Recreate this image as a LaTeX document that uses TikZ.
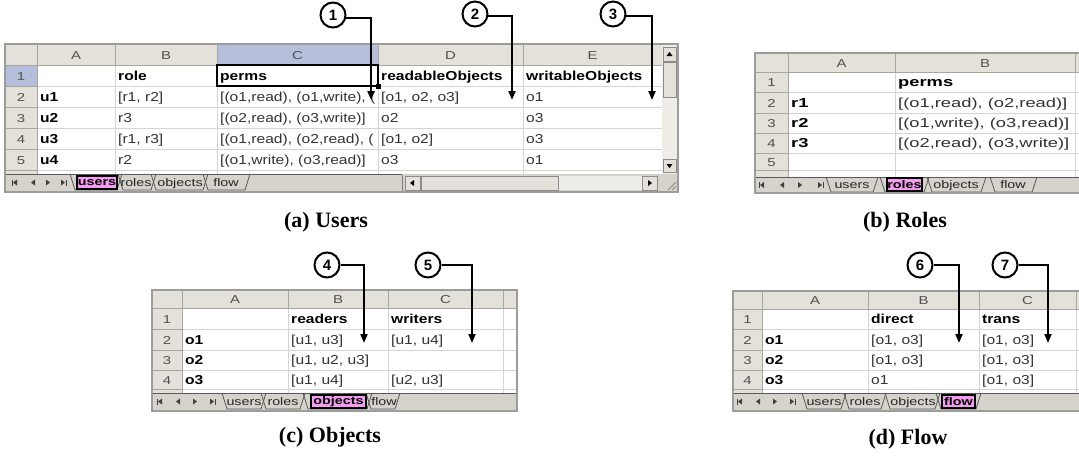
\documentclass[tikz,border=0pt]{standalone}
\usepackage{fontspec}
\usetikzlibrary{arrows.meta}
\newfontfamily\xlfont[FakeStretch=1.2]{Liberation Sans}
\newfontfamily\xlwide[FakeStretch=1.41]{Liberation Sans}
\newfontfamily\tabfont[FakeStretch=1.3]{Liberation Sans}
\newfontfamily\capfont{Liberation Serif}
\newfontfamily\numfont{Liberation Sans}
\definecolor{hdrbg}{HTML}{E3E1DA}
\definecolor{selbg}{HTML}{B5BFDC}
\definecolor{gridc}{HTML}{D4D4D4}
\definecolor{hdrln}{HTML}{A9A69E}
\definecolor{tabbg}{HTML}{D6D3CC}
\definecolor{framec}{HTML}{9C9C9C}
\definecolor{pinktab}{HTML}{F39CF0}
\definecolor{celltxt}{HTML}{333333}
\definecolor{hdrtxt}{HTML}{505050}
\definecolor{trackc}{HTML}{EEEDE8}
\newcommand\cf{\xlfont\fontsize{13}{15}\selectfont}
\newcommand\cfw{\xlwide\fontsize{13}{15}\selectfont}
\newcommand\xltab[4]{\draw[tabline] (#1,#3) -- (#1+5,#4) -- (#2-5,#4) -- (#2,#3);}
\newcommand\navbar[5]{%
  \fill[black!75] (#1-2,#5) -- (#1+2,#5-3) -- (#1+2,#5+3) -- cycle;
  \fill[black!75] (#1-3.5,#5-3) rectangle (#1-2.5,#5+3);
  \fill[black!75] (#2-2,#5) -- (#2+2,#5-3) -- (#2+2,#5+3) -- cycle;
  \fill[black!75] (#3+2,#5) -- (#3-2,#5-3) -- (#3-2,#5+3) -- cycle;
  \fill[black!75] (#4+2,#5) -- (#4-2,#5-3) -- (#4-2,#5+3) -- cycle;
  \fill[black!75] (#4+2.5,#5-3) rectangle (#4+3.5,#5+3);}
\tikzset{
  cell/.style={anchor=base west, inner sep=0pt, font=\cf, text=celltxt},
  bcell/.style={anchor=base west, inner sep=0pt, font=\cf\bfseries, text=black},
  wcell/.style={anchor=base west, inner sep=0pt, font=\cfw, text=celltxt},
  wbcell/.style={anchor=base west, inner sep=0pt, font=\cfw\bfseries, text=black},
  colhdr/.style={anchor=base, inner sep=0pt, font=\tabfont\fontsize{11.5}{13}\selectfont, text=hdrtxt},
  tabtxt/.style={anchor=base, inner sep=0pt, font=\tabfont\fontsize{11}{12}\selectfont, text=black!85},
  acttab/.style={inner sep=0pt, font=\tabfont\bfseries\fontsize{11}{12}\selectfont, fill=pinktab, draw=black, line width=1.6pt, minimum height=13pt},
  gridline/.style={draw=gridc, line width=0.9pt},
  hdrline/.style={draw=hdrln, line width=0.8pt},
  winframe/.style={draw=framec, line width=2.2pt},
  tabline/.style={draw=black!65, line width=0.8pt},
  btn/.style={fill=hdrbg, draw=black!45, line width=0.6pt},
  callout/.style={circle, draw=black, line width=2pt, fill=white, minimum size=25pt, inner sep=0pt, font=\numfont\bfseries\fontsize{15}{17}\selectfont},
  calline/.style={draw=black, line width=2pt, -{Triangle[length=9pt,width=7pt]}},
  caption/.style={font=\capfont\bfseries\fontsize{22}{24}\selectfont},
}
\begin{document}
\begin{tikzpicture}[x=1pt,y=-1pt]
\clip (0,0) rectangle (1079,456);
\fill[white] (0,0) rectangle (1079,456);

%================ (a) USERS =================
\fill[white] (5,44) rectangle (662,174);
\fill[hdrbg] (5,44) rectangle (662,65);
\fill[hdrbg] (5,65) rectangle (37,174);
\fill[selbg] (217,44) rectangle (378,65);
\fill[selbg] (5,65) rectangle (37,86);
\foreach \y in {86,107,128,149,170} \draw[gridline] (37,\y) -- (662,\y);
\foreach \x in {115,217,378,523} \draw[gridline] (\x,65) -- (\x,174);
\foreach \x in {37,115,217,378,523,662} \draw[hdrline] (\x,44) -- (\x,65);
\foreach \y in {65,86,107,128,149,170} \draw[hdrline] (5,\y) -- (37,\y);
\draw[hdrline] (37,65) -- (37,174);
\draw[hdrline] (5,65) -- (662,65);
\node[colhdr] (uhA) at (76,59) {A};
\node[colhdr] (uhB) at (166,59) {B};
\node[colhdr] (uhC) at (297.5,59) {C};
\node[colhdr] (uhD) at (450.5,59) {D};
\node[colhdr] (uhE) at (592.5,59) {E};
\node[colhdr] (ur1) at (21,80) {1};
\node[colhdr] (ur2) at (21,101) {2};
\node[colhdr] (ur3) at (21,122) {3};
\node[colhdr] (ur4) at (21,143) {4};
\node[colhdr] (ur5) at (21,164) {5};
\node[bcell] (uB1) at (118,80) {role};
\node[bcell] (uC1) at (220,80) {perms};
\node[bcell] (uD1) at (381,80) {readableObjects};
\node[bcell] (uE1) at (526,80) {writableObjects};
\node[bcell] (uA2) at (40,101) {u1};
\node[bcell] (uA3) at (40,122) {u2};
\node[bcell] (uA4) at (40,143) {u3};
\node[bcell] (uA5) at (40,164) {u4};
\node[cell] (uB2) at (118,101) {[r1, r2]};
\node[cell] (uB3) at (118,122) {r3};
\node[cell] (uB4) at (118,143) {[r1, r3]};
\node[cell] (uB5) at (118,164) {r2};
\begin{scope}
\clip (217,86) rectangle (377,170);
\node[cell] (uC2) at (220,101) {[(o1,read), (o1,write), (};
\node[cell] (uC3) at (220,122) {[(o2,read), (o3,write)]};
\node[cell] (uC4) at (220,143) {[(o1,read), (o2,read), (};
\node[cell] (uC5) at (220,164) {[(o1,write), (o3,read)]};
\end{scope}
\node[cell] (uD2) at (381,101) {[o1, o2, o3]};
\node[cell] (uD3) at (381,122) {o2};
\node[cell] (uD4) at (381,143) {[o1, o2]};
\node[cell] (uD5) at (381,164) {o3};
\node[cell] (uE2) at (526,101) {o1};
\node[cell] (uE3) at (526,122) {o3};
\node[cell] (uE4) at (526,143) {o3};
\node[cell] (uE5) at (526,164) {o1};
\draw[black, line width=2pt] (217,65) rectangle (378,86);
\fill[black] (375.5,83.5) rectangle (380.5,88.5);
% vertical scrollbar
\fill[trackc] (662,44) rectangle (677,174);
\draw[btn] (663,47) rectangle (676,61);
\fill[black] (669.5,52) -- (666.5,56) -- (672.5,56) -- cycle;
\draw[btn] (663,62) rectangle (676,97);
\draw[btn] (663,159) rectangle (676,172);
\fill[black] (669.5,168) -- (666.5,164) -- (672.5,164) -- cycle;
% tab bar
\fill[tabbg] (5,174) rectangle (677,192);
\draw[tabline] (5,174) -- (402,174);
\navbar{15}{33}{48}{63}{182.5}
\xltab{203}{250}{174}{190}
\xltab{151}{208}{174}{190}
\xltab{118}{156}{174}{190}
\xltab{70}{122}{174}{190}
\node[tabtxt] (utr) at (136,186.5) {roles};
\node[tabtxt] (uto) at (180,186.5) {objects};
\node[tabtxt] (utf) at (226,186.5) {flow};
\node[acttab, minimum width=40pt] (utu) at (97,182.5) {users};
% horizontal scrollbar
\draw[black!50, line width=1pt] (402,175) -- (402,191);
\fill[trackc] (405,176) rectangle (657,190);
\draw[btn] (405,176) rectangle (420,190);
\fill[black] (410,183) -- (414,180) -- (414,186) -- cycle;
\draw[btn] (421,176) rectangle (558,190);
\draw[btn] (642,176) rectangle (657,190);
\fill[black] (652,183) -- (648,180) -- (648,186) -- cycle;
\foreach \d in {0,4,8} \draw[black!50, line width=0.7pt] (676-\d,190) -- (676,190-\d);
\draw[winframe] (5,44) rectangle (678,192);

%================ (b) ROLES =================
\fill[white] (755,53) rectangle (1090,177);
\fill[hdrbg] (755,53) rectangle (1090,72);
\fill[hdrbg] (755,72) rectangle (788,177);
\foreach \y in {92,113,133,153,170} \draw[gridline] (788,\y) -- (1090,\y);
\foreach \x in {895,1075} \draw[gridline] (\x,72) -- (\x,177);
\foreach \x in {788,895,1075} \draw[hdrline] (\x,53) -- (\x,72);
\foreach \y in {72,92,113,133,153,170} \draw[hdrline] (755,\y) -- (788,\y);
\draw[hdrline] (788,72) -- (788,177);
\draw[hdrline] (755,72) -- (1090,72);
\node[colhdr] (rhA) at (841.5,67) {A};
\node[colhdr] (rhB) at (985,67) {B};
\node[colhdr] (rr1) at (771.5,86.5) {1};
\node[colhdr] (rr2) at (771.5,107) {2};
\node[colhdr] (rr3) at (771.5,127.5) {3};
\node[colhdr] (rr4) at (771.5,147.5) {4};
\node[colhdr] (rr5) at (771.5,166) {5};
\node[wbcell] (rB1) at (898,86.5) {perms};
\node[wbcell] (rA2) at (791,107) {r1};
\node[wbcell] (rA3) at (791,127.5) {r2};
\node[wbcell] (rA4) at (791,147.5) {r3};
\node[wcell] (rB2) at (898,107) {[(o1,read), (o2,read)]};
\node[wcell] (rB3) at (898,127.5) {[(o1,write), (o3,read)]};
\node[wcell] (rB4) at (898,147.5) {[(o2,read), (o3,write)]};
\fill[tabbg] (755,177) rectangle (1090,193);
\draw[tabline] (755,177) -- (1090,177);
\navbar{762}{782}{800}{820}{185}
\xltab{990}{1037}{177}{192}
\xltab{927}{986}{177}{192}
\xltab{826}{878}{177}{192}
\xltab{880}{929}{177}{192}
\node[tabtxt] (rtu) at (852,188.5) {users};
\node[tabtxt] (rto) at (956,188.5) {objects};
\node[tabtxt] (rtf) at (1013,188.5) {flow};
\node[acttab, minimum width=35pt] (rtr) at (904.5,184.5) {roles};
\draw[winframe] (755,53) rectangle (1090,193);

%================ (c) OBJECTS =================
\fill[white] (152,290) rectangle (517,393);
\fill[hdrbg] (152,290) rectangle (517,308);
\fill[hdrbg] (152,308) rectangle (182,393);
\foreach \y in {329,350,370,389} \draw[gridline] (182,\y) -- (517,\y);
\foreach \x in {288,388,503} \draw[gridline] (\x,308) -- (\x,393);
\foreach \x in {182,288,388,503} \draw[hdrline] (\x,290) -- (\x,308);
\foreach \y in {308,329,350,370,389} \draw[hdrline] (152,\y) -- (182,\y);
\draw[hdrline] (182,308) -- (182,393);
\draw[hdrline] (152,308) -- (517,308);
\node[colhdr] (ohA) at (235,303) {A};
\node[colhdr] (ohB) at (338,303) {B};
\node[colhdr] (ohC) at (445.5,303) {C};
\node[colhdr] (or1) at (167,323) {1};
\node[colhdr] (or2) at (167,344) {2};
\node[colhdr] (or3) at (167,364.5) {3};
\node[colhdr] (or4) at (167,384) {4};
\node[bcell] (oB1) at (291,323) {readers};
\node[bcell] (oC1) at (391,323) {writers};
\node[bcell] (oA2) at (185,344) {o1};
\node[bcell] (oA3) at (185,364.5) {o2};
\node[bcell] (oA4) at (185,384) {o3};
\node[cell] (oB2) at (291,344) {[u1, u3]};
\node[cell] (oB3) at (291,364.5) {[u1, u2, u3]};
\node[cell] (oB4) at (291,384) {[u1, u4]};
\node[cell] (oC2) at (391,344) {[u1, u4]};
\node[cell] (oC4) at (391,384) {[u2, u3]};
\fill[tabbg] (152,393) rectangle (517,411);
\draw[tabline] (152,393) -- (517,393);
\navbar{160}{178}{195}{212}{401.5}
\xltab{366}{400}{393}{409}
\xltab{261}{305}{393}{409}
\xltab{222}{266}{393}{409}
\xltab{303}{372}{393}{409}
\node[tabtxt] (otu) at (244,405) {users};
\node[tabtxt] (otr) at (283,405) {roles};
\node[tabtxt] (otf) at (384,405) {flow};
\node[acttab, minimum width=55pt] (oto) at (338.5,401.5) {objects};
\draw[winframe] (152,290) rectangle (517,411);

%================ (d) FLOW =================
\fill[white] (733,291) rectangle (1090,393);
\fill[hdrbg] (733,291) rectangle (1090,309);
\fill[hdrbg] (733,309) rectangle (762,393);
\foreach \y in {329,350,370,389} \draw[gridline] (762,\y) -- (1090,\y);
\foreach \x in {868,979,1076} \draw[gridline] (\x,309) -- (\x,393);
\foreach \x in {762,868,979,1076} \draw[hdrline] (\x,291) -- (\x,309);
\foreach \y in {309,329,350,370,389} \draw[hdrline] (733,\y) -- (762,\y);
\draw[hdrline] (762,309) -- (762,393);
\draw[hdrline] (733,309) -- (1090,309);
\node[colhdr] (fhA) at (815,304) {A};
\node[colhdr] (fhB) at (923.5,304) {B};
\node[colhdr] (fhC) at (1027.5,304) {C};
\node[colhdr] (fr1) at (747.5,323.5) {1};
\node[colhdr] (fr2) at (747.5,344) {2};
\node[colhdr] (fr3) at (747.5,364.5) {3};
\node[colhdr] (fr4) at (747.5,384) {4};
\node[bcell] (fB1) at (871,323.5) {direct};
\node[bcell] (fC1) at (982,323.5) {trans};
\node[bcell] (fA2) at (765,344) {o1};
\node[bcell] (fA3) at (765,364.5) {o2};
\node[bcell] (fA4) at (765,384) {o3};
\node[cell] (fB2) at (871,344) {[o1, o3]};
\node[cell] (fB3) at (871,364.5) {[o1, o3]};
\node[cell] (fB4) at (871,384) {o1};
\node[cell] (fC2) at (982,344) {[o1, o3]};
\node[cell] (fC3) at (982,364.5) {[o1, o3]};
\node[cell] (fC4) at (982,384) {[o1, o3]};
\fill[tabbg] (733,393) rectangle (1090,411);
\draw[tabline] (733,393) -- (1090,393);
\navbar{740}{758}{775}{792}{401.5}
\xltab{885}{940}{393}{409}
\xltab{844}{886}{393}{409}
\xltab{802}{846}{393}{409}
\xltab{936}{981}{393}{409}
\node[tabtxt] (ftu) at (824,405) {users};
\node[tabtxt] (ftr) at (865,405) {roles};
\node[tabtxt] (fto) at (913,405) {objects};
\node[acttab, minimum width=33pt] (ftf) at (958.5,401.5) {flow};
\draw[winframe] (733,291) rectangle (1090,411);

%================ CALLOUTS =================
\node[callout] (c1) at (333,15) {1};
\node[callout] (c2) at (475,14) {2};
\node[callout] (c3) at (613,14) {3};
\node[callout] (c4) at (327,265) {4};
\node[callout] (c5) at (428,265) {5};
\node[callout] (c6) at (920,265) {6};
\node[callout] (c7) at (1005,265) {7};
\coordinate (t1) at (371,100);
\coordinate (t2) at (512,100);
\coordinate (t3) at (652,100);
\coordinate (t4) at (364,343);
\coordinate (t5) at (472,343);
\coordinate (t6) at (959,343);
\coordinate (t7) at (1048,343);
\draw[calline] (c1.-12) -| (t1);
\draw[calline] (c2.-8) -| (t2);
\draw[calline] (c3.-8) -| (t3);
\draw[calline] (c4.east) -| (t4);
\draw[calline] (c5.east) -| (t5);
\draw[calline] (c6.east) -| (t6);
\draw[calline] (c7.east) -| (t7);

%================ CAPTIONS =================
\node[caption] (capa) at (326,222.5) {(a) Users};
\node[caption] (capb) at (905,222.5) {(b) Roles};
\node[caption] (capc) at (330,437.5) {(c) Objects};
\node[caption] (capd) at (908,439.5) {(d) Flow};
\end{tikzpicture}
\end{document}
